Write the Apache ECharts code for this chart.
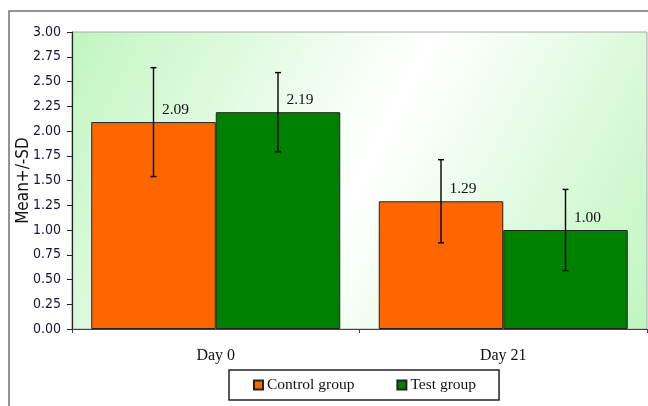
<!DOCTYPE html>
<html>
<head>
<meta charset="utf-8">
<script src="https://cdn.jsdelivr.net/npm/echarts@6/dist/echarts.min.js"></script>
<style>html,body{margin:0;padding:0;background:#fff;}#c{width:648px;height:406px;}</style>
</head>
<body>
<div id="c"></div>
<script>
var categories = ['Day 0', 'Day 21'];
var controlMean = [2.09, 1.29];
var controlSD = [0.55, 0.42];
var testMean = [2.19, 1.00];
var testSD = [0.40, 0.41];
var seriesNames = ['Control group', 'Test group'];
var yTicks = { min: 0, max: 3, interval: 0.25 };

var serif = '"Liberation Serif", "Times New Roman", serif';
var sansC = '"DejaVu Sans Condensed", "DejaVu Sans", sans-serif';
var BAR_W = 124.5;

function errData(means, sds) {
  return means.map(function (m, i) { return [i, m - sds[i], m + sds[i]]; });
}
function errRender(offset) {
  return function (params, api) {
    var x = api.value(0);
    var lo = api.coord([x, api.value(1)]);
    var hi = api.coord([x, api.value(2)]);
    var cx = lo[0] + offset;
    var cap = 3;
    var st = { stroke: '#000', lineWidth: 1.4 };
    return {
      type: 'group',
      children: [
        { type: 'line', shape: { x1: cx, y1: hi[1], x2: cx, y2: lo[1] }, style: st },
        { type: 'line', shape: { x1: cx - cap, y1: hi[1], x2: cx + cap, y2: hi[1] }, style: st },
        { type: 'line', shape: { x1: cx - cap, y1: lo[1], x2: cx + cap, y2: lo[1] }, style: st }
      ]
    };
  };
}

var labelStyle = {
  show: true, position: 'top', distance: 4, offset: [22, 0],
  color: '#111', fontFamily: serif, fontSize: 15.5,
  formatter: function (p) { return Number(p.value).toFixed(2); }
};

var chart = echarts.init(document.getElementById('c'), null, { renderer: 'canvas' });
chart.setOption({
  backgroundColor: '#fff',
  animation: false,
  graphic: [{
    type: 'rect', z: -10, silent: true,
    shape: { x: 9, y: 11, width: 800, height: 600 },
    style: { fill: 'none', stroke: '#707070', lineWidth: 1.5 }
  }],
  grid: {
    left: 72, top: 32, right: 1, bottom: 77,
    containLabel: false,
    outerBoundsMode: 'none',
    show: true, borderColor: '#a8a8a8', borderWidth: 1,
    backgroundColor: {
      type: 'linear', x: 0, y: 0, x2: 1, y2: 1,
      colorStops: [
        { offset: 0, color: '#c0f5c0' },
        { offset: 0.5, color: '#ffffff' },
        { offset: 1, color: '#c0f5c0' }
      ]
    }
  },
  legend: {
    data: seriesNames,
    left: 229, top: 370,
    orient: 'horizontal',
    backgroundColor: '#fff',
    borderColor: '#222', borderWidth: 1.5,
    padding: [7, 23, 7, 24],
    itemWidth: 9, itemHeight: 9, itemGap: 42,
    icon: 'rect',
    textStyle: { fontFamily: serif, fontSize: 15.5, color: '#111', padding: [0, 0, 0, -1] }
  },
  xAxis: {
    type: 'category', data: categories,
    axisLine: { lineStyle: { color: '#444', width: 1.2 } },
    axisTick: { show: true, length: 4, lineStyle: { color: '#444' } },
    axisLabel: { margin: 19, fontFamily: serif, fontSize: 16, color: '#111' }
  },
  yAxis: {
    type: 'value', min: yTicks.min, max: yTicks.max, interval: yTicks.interval,
    name: 'Mean+/-SD', nameLocation: 'middle', nameGap: 40, nameRotate: 90,
    nameMoveOverlap: false,
    nameTextStyle: { fontFamily: sansC, fontSize: 17, color: '#111' },
    axisLine: { show: true, lineStyle: { color: '#222', width: 1.2 } },
    axisTick: { show: true, length: 5, lineStyle: { color: '#222' } },
    splitLine: { show: false },
    axisLabel: {
      margin: 11, fontFamily: sansC, fontSize: 14, color: '#14143a',
      formatter: function (v) { return v.toFixed(2); }
    }
  },
  series: [
    {
      name: seriesNames[0], type: 'bar', data: controlMean, barWidth: BAR_W, barGap: '0%',
      itemStyle: { color: '#ff6600', borderColor: '#222', borderWidth: 1 },
      label: labelStyle
    },
    {
      name: seriesNames[1], type: 'bar', data: testMean, barWidth: BAR_W, barGap: '0%',
      itemStyle: { color: '#008000', borderColor: '#222', borderWidth: 1 },
      label: labelStyle
    },
    {
      name: 'errControl', type: 'custom', z: 5,
      renderItem: errRender(-BAR_W / 2), data: errData(controlMean, controlSD),
      encode: { x: 0, y: [1, 2] }
    },
    {
      name: 'errTest', type: 'custom', z: 5,
      renderItem: errRender(BAR_W / 2), data: errData(testMean, testSD),
      encode: { x: 0, y: [1, 2] }
    }
  ]
});
</script>
</body>
</html>
